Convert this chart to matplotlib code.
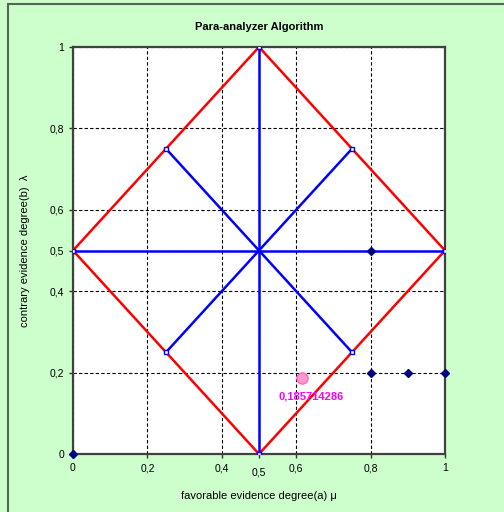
import matplotlib
matplotlib.use('Agg')
import matplotlib.pyplot as plt
import matplotlib.transforms as mtransforms
from matplotlib.patches import Rectangle

plt.rcParams['font.family'] = ['Liberation Sans', 'DejaVu Sans']

# lattice outline (red diamond)
diamond_x = [0, 0.5, 1, 0.5, 0]
diamond_y = [0.5, 1, 0.5, 0, 0.5]

# blue inner segments
blue_segments = [
    ([0, 1], [0.5, 0.5]),
    ([0.5, 0.5], [0, 1]),
    ([0.25, 0.75], [0.25, 0.75]),
    ([0.25, 0.75], [0.75, 0.25]),
]

# navy sample points
pts_x = [0, 0.8, 0.8, 0.9, 1]
pts_y = [0, 0.5, 0.2, 0.2, 0.2]

# analysed point
res_x = 0.615
res_y = 0.185714286
res_label = '0,185714286'

xticks = [0, 0.2, 0.4, 0.5, 0.6, 0.8, 1]
xtick_labels = ['0', '0,2', '0,4', '0,5', '0,6', '0,8', '1']
yticks = [0, 0.2, 0.4, 0.5, 0.6, 0.8, 1]
ytick_labels = ['0', '0,2', '0,4', '0,5', '0,6', '0,8', '1']

fig = plt.figure(figsize=(5.04, 5.12), dpi=100, facecolor='#CCFFCC')
fig.patches.append(Rectangle((8 / 504, -0.1), 1.2, 1.1 - 4 / 512, transform=fig.transFigure,
                             fill=False, edgecolor='#556655', linewidth=1.5))
ax = fig.add_axes([73 / 504, 1 - 454 / 512, 372 / 504, 407 / 512])
ax.set_facecolor('white')

ax.plot(diamond_x, diamond_y, color='#FF0000', lw=1.8, zorder=3,
        marker='s', ms=3.5, mfc='white', mec='#FF0000', mew=1)
for sx, sy in blue_segments:
    ax.plot(sx, sy, color='#0000FF', lw=1.8, zorder=4,
            marker='s', ms=3.5, mfc='white', mec='#0000FF', mew=1)

ax.plot(pts_x, pts_y, 'D', color='#000080', ms=4.5, ls='none', zorder=5, clip_on=False)
ax.plot(res_x, res_y, 'o', ms=8, mfc='#FF99CC', mec='#FF66CC', zorder=5)
ax.text(res_x + 0.025, res_y - 0.045, res_label, color='#FF00FF', fontsize=8,
        fontweight='bold', ha='center', va='center', zorder=6)

ax.set_xlim(0, 1)
ax.set_ylim(0, 1)
ax.set_xticks(xticks)
ax.set_xticklabels(xtick_labels, fontsize=7.5)
ax.set_yticks(yticks)
ax.set_yticklabels(ytick_labels, fontsize=7.5)
ax.tick_params(length=3, width=1, color='#333333')
# the 0,5 label sits a bit lower than the others
lbl = ax.get_xticklabels()[3]
lbl.set_transform(lbl.get_transform() + mtransforms.ScaledTranslation(0, -4 / 100, fig.dpi_scale_trans))
ax.grid(True, color='black', ls=(0, (3, 2)), lw=0.8)
for s in ax.spines.values():
    s.set_color('#404040')
    s.set_linewidth(1.6)

ax.set_title('Para-analyzer Algorithm', fontsize=8, fontweight='bold', pad=12)
ax.set_xlabel('favorable evidence degree(a) μ', fontsize=8, labelpad=10)
ax.set_ylabel('contrary evidence degree(b)  λ', fontsize=8, labelpad=14)

fig.savefig('out.png', dpi=100, facecolor=fig.get_facecolor())
